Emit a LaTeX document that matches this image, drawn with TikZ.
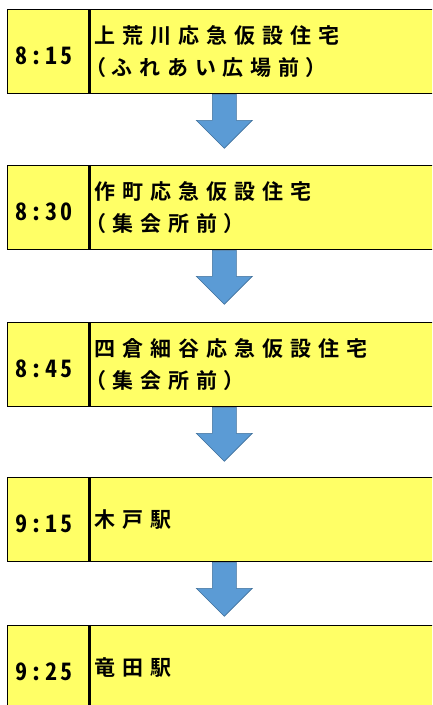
\documentclass[tikz,border=0pt]{standalone}
\usepackage{fontspec}
\newfontfamily\jpfont{Noto Sans CJK JP}[BoldFont={Noto Sans CJK JP Bold}, LetterSpace=33, RawFeature=+palt]
\newfontfamily\timefont{Noto Sans CJK JP}[BoldFont={Noto Sans CJK JP Bold}, LetterSpace=12, RawFeature=+hwid]
\usetikzlibrary{calc}

\definecolor{cellyellow}{RGB}{255,255,102}
\definecolor{arrowblue}{RGB}{91,155,213}
\definecolor{arrowedge}{RGB}{65,113,156}

\tikzset{
  cell/.style={draw, fill=cellyellow, line width=1.3pt, minimum height=84pt, anchor=north west, inner ysep=0pt},
  timecell/.style={cell, inner xsep=8pt, text width=65pt, align=left, text height=26pt, text depth=0pt, font=\timefont\bfseries\fontsize{24}{26}\selectfont},
  placecell/.style={cell, inner xsep=5pt, text width=347pt, align=left, font=\jpfont\bfseries\fontsize{21}{32}\selectfont},
}

\newcommand{\stoparrow}[1]{%
  \filldraw[fill=arrowblue, draw=arrowedge, line width=0.6pt]
    ($(#1.south west)+(123,0)$) -- ++(0,26) -- ++(-16,0) -- ++(28,28)
    -- ++(28,-28) -- ++(-16,0) -- ++(0,-26) -- cycle;}

\begin{document}
\begin{tikzpicture}[x=1pt,y=-1pt]
\useasboundingbox (0,0) rectangle (432,705);
\clip (0,0) rectangle (432,705);

% stops
\foreach \top/\time/\place [count=\i] in {
  9/{8:15}/{上荒川応急仮設住宅\\（ふれあい広場前）},
  165/{8:30}/{作町応急仮設住宅\\（集会所前）},
  322/{8:45}/{四倉細谷応急仮設住宅\\（集会所前）},
  477/{9:15}/{木戸駅},
  625/{9:25}/{竜田駅}}
{
  \node[timecell] (t\i) at (7,\top) {\time};
  \node[placecell] (p\i) at (t\i.north east) {\place};
}

% arrows
\foreach \i in {1,...,4}
  \stoparrow{p\i};

\end{tikzpicture}
\end{document}
